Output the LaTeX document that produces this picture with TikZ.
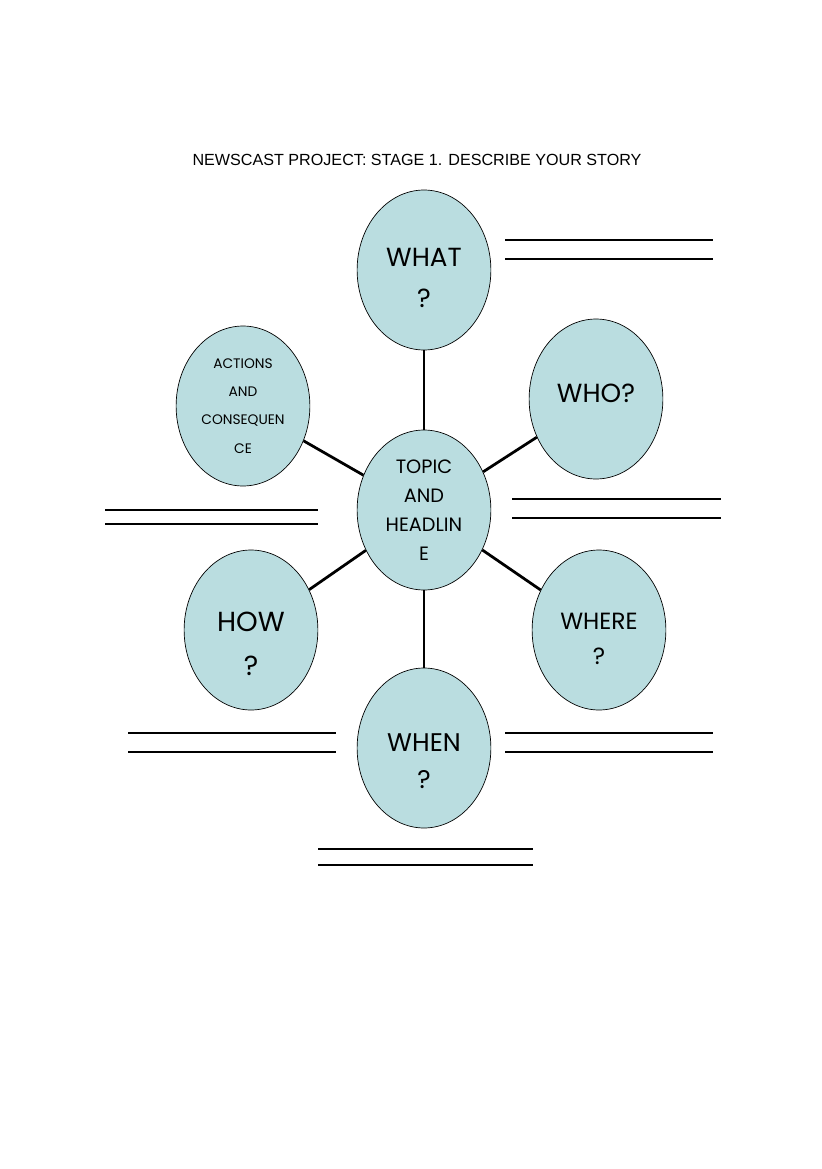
\documentclass[tikz,border=0pt]{standalone}
\usepackage{fontspec}
\setmainfont{Liberation Sans}
\newfontfamily\bubblefont{Poppins}
\usetikzlibrary{shapes.geometric}
\definecolor{bubble}{RGB}{186,221,224}

\begin{document}
\begin{tikzpicture}[x=0.7251pt, y=-0.7251pt,
  blase/.style={ellipse, draw=black, line width=0.5pt, fill=bubble,
    minimum width=97pt, minimum height=116pt, inner sep=0pt},
  wort/.style 2 args={align=center, inner sep=0pt,
    font=\bubblefont\fontsize{#1}{#2}\selectfont},
  speiche/.style={line width=2pt},
  zeile/.style={line width=0.8pt}]

\useasboundingbox (0,0) rectangle (821,1169);

% two lines to write on: x from, x to, y upper, y lower
\def\linien#1#2#3#4{
\draw[zeile] (#1,#3)--(#2,#3);
\draw[zeile] (#1,#4)--(#2,#4);
}

\node[font=\fontsize{11.7}{13}\selectfont] (titel) at (417,160) {NEWSCAST PROJECT: STAGE 1. DESCRIBE YOUR STORY};

% bubbles
\node[blase] (topic) at (424,510) {};
\node[blase] (what) at (424,270) {};
\node[blase] (who) at (596,399) {};
\node[blase] (actions) at (243,406) {};
\node[blase] (how) at (251,630) {};
\node[blase] (where) at (599,630) {};
\node[blase] (when) at (424,748) {};

% texts
\node[wort={14}{21}] (topic-text) at (424,510) {TOPIC\\AND\\HEADLIN\\E};
\node[wort={19}{30}] (what-text) at (424,278) {WHAT\\?};
\node[wort={19}{22}] (who-text) at (596,393) {WHO?};
\node[wort={10}{20.5}] (actions-text) at (243,406) {ACTIONS\\AND\\CONSEQUEN\\CE};
\node[wort={20}{32}] (how-text) at (251,644) {HOW\\?};
\node[wort={17}{25}] (where-text) at (599,639) {WHERE\\?};
\node[wort={18.5}{27}] (when-text) at (424,761) {WHEN\\?};

\draw[speiche] (topic)--(what);
\draw[speiche] (topic)--(who);
\draw[speiche] (topic)--(actions);
\draw[speiche] (topic)--(how);
\draw[speiche] (topic)--(where);
\draw[speiche] (topic)--(when);

\linien{505}{713}{240}{259}
\linien{512}{721}{499}{518}
\linien{105}{318}{510}{524}
\linien{128}{336}{733}{752}
\linien{505}{713}{733}{752}
\linien{318}{533}{849}{865}

\end{tikzpicture}
\end{document}
